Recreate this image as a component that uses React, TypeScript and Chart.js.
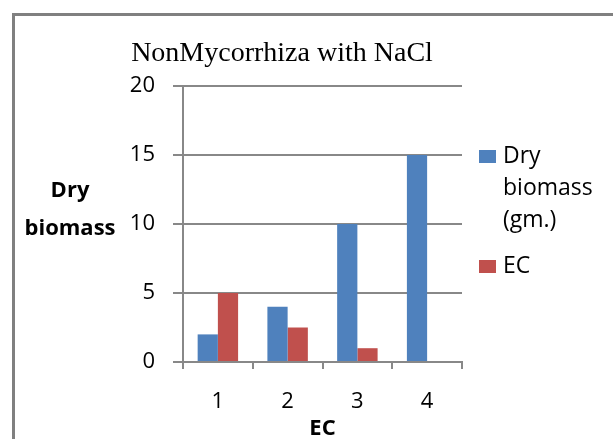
import React, { useEffect, useRef } from "react";
import { Chart, registerables } from "chart.js";

Chart.register(...registerables);

const categories = ["1", "2", "3", "4"];
const dryBiomass = [2, 4, 10, 15];
const ecValues = [5, 2.5, 1, 0];
const seriesLabels = ["Dry biomass (gm.)", "EC"];
const seriesColors = ["#4F81BD", "#C0504D"];
const yTicks = [0, 5, 10, 15, 20];
const chartTitle = "NonMycorrhiza with NaCl";
const yTitleLines = ["Dry", "biomass"];
const xTitle = "EC";

const SANS = "'Open Sans', 'DejaVu Sans', sans-serif";
const GRID = "#888888";

const decorPlugin = {
  id: "decor",
  beforeDraw(chart: any) {
    const ctx = chart.ctx;
    ctx.save();
    ctx.fillStyle = "#ffffff";
    ctx.fillRect(0, 0, chart.width, chart.height);
    ctx.fillStyle = "#808080";
    ctx.fillRect(12, 13, 3, chart.height - 13);
    ctx.fillRect(12, 13, chart.width - 12, 3);
    ctx.restore();
  },
  afterDraw(chart: any) {
    const ctx = chart.ctx;
    const area = chart.chartArea;
    ctx.save();
    ctx.fillStyle = "#000";
    ctx.font = "28px 'Liberation Serif', 'Times New Roman', serif";
    ctx.textAlign = "center";
    ctx.textBaseline = "alphabetic";
    ctx.fillText(chartTitle, 282, 61);
    ctx.font = `bold 22px ${SANS}`;
    ctx.fillText(yTitleLines[0], 70, 197);
    ctx.fillText(yTitleLines[1], 70, 235);
    ctx.fillText(xTitle, (area.left + area.right) / 2, 435);
    ctx.font = `23px ${SANS}`;
    ctx.textAlign = "left";
    let y = 163;
    chart.data.datasets.forEach((ds: any) => {
      const words = String(ds.label).split(" ");
      const lines: string[] = [];
      let cur = "";
      for (const w of words) {
        const test = cur ? cur + " " + w : w;
        if (cur && ctx.measureText(test).width > 105) {
          lines.push(cur);
          cur = w;
        } else cur = test;
      }
      if (cur) lines.push(cur);
      ctx.fillStyle = ds.backgroundColor;
      ctx.fillRect(479, y - 13, 17, 13);
      ctx.fillStyle = "#000";
      lines.forEach((ln, j) => ctx.fillText(ln, 503, y + j * 32));
      y += (lines.length - 1) * 32 + 46;
    });
    ctx.restore();
  },
};

export default function App() {
  const ref = useRef<HTMLCanvasElement | null>(null);
  useEffect(() => {
    if (!ref.current) return;
    const chart = new Chart(ref.current, {
      type: "bar",
      data: {
        labels: categories,
        datasets: [
          { label: seriesLabels[0], data: dryBiomass, backgroundColor: seriesColors[0] },
          { label: seriesLabels[1], data: ecValues, backgroundColor: seriesColors[1] },
        ],
      },
      options: {
        animation: false,
        responsive: false,
        devicePixelRatio: 1,
        layout: { padding: { top: 86, right: 151, bottom: 0, left: 0 } },
        datasets: { bar: { categoryPercentage: 0.58, barPercentage: 1.0 } },
        plugins: { legend: { display: false }, title: { display: false }, tooltip: { enabled: false } },
        scales: {
          x: {
            offset: true,
            afterFit: (s: any) => { s.height = 77; },
            grid: { offset: true, drawOnChartArea: false, drawTicks: true, tickLength: 7, color: GRID, lineWidth: 2 },
            border: { display: true, color: GRID, width: 2 },
            ticks: { padding: 20, color: "#000", font: { family: SANS, size: 22 } },
          },
          y: {
            min: 0,
            max: 20,
            afterFit: (s: any) => { s.width = 183; },
            afterBuildTicks: (s: any) => { s.ticks = yTicks.map((v) => ({ value: v })); },
            grid: { color: GRID, lineWidth: 2, tickLength: 10 },
            border: { display: true, color: GRID, width: 2 },
            ticks: { padding: 18, color: "#000", font: { family: SANS, size: 22 } },
          },
        },
      },
      plugins: [decorPlugin],
    } as any);
    return () => chart.destroy();
  }, []);
  return (
    <div style={{ position: "fixed", left: 0, top: 0, width: 613, height: 439, background: "#fff" }}>
      <canvas ref={ref} width={613} height={439} style={{ width: 613, height: 439, display: "block" }} />
    </div>
  );
}
